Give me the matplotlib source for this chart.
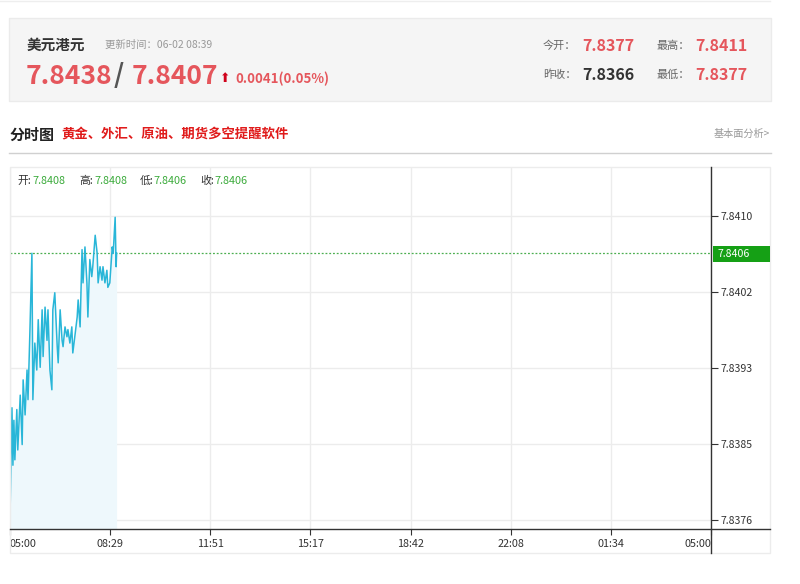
import matplotlib
matplotlib.use("Agg")
import matplotlib.pyplot as plt
from matplotlib.patches import Rectangle
from matplotlib.lines import Line2D
import numpy as np

plt.rcParams['font.family'] = ['Noto Sans CJK SC', 'DejaVu Sans']

# ---- quote header ----
pair_name = "美元港元"
update_time = "更新时间：06-02 08:39"
bid_price = "7.8438"
ask_price = "7.8407"
change_text = "0.0041(0.05%)"
open_today = "7.8377"
prev_close = "7.8366"
day_high = "7.8411"
day_low = "7.8377"

# ---- last-bar OHLC ----
bar_labels = ["开:", "高:", "低:", "收:"]
bar_values = ["7.8408", "7.8408", "7.8406", "7.8406"]

# ---- intraday series (minutes after 05:00, price) ----
minutes = [0, 4, 6, 8, 10, 14, 16, 21, 25, 27, 31, 35, 37, 41, 45, 47, 51, 55,
           58, 62, 66, 68, 72, 76, 78, 82, 86, 88, 92, 97, 99, 103, 107, 109,
           113, 117, 119, 123, 127, 129, 134, 138, 140, 144, 148, 150, 154, 158,
           160, 164, 168, 170, 175, 179, 181, 185, 189, 191, 195, 199, 201, 205,
           210, 212, 216, 218, 219]
prices = [7.83766, 7.83888, 7.83824, 7.83874, 7.83830, 7.83886, 7.83841,
          7.83902, 7.83847, 7.83919, 7.83880, 7.83930, 7.83897, 7.83975,
          7.84060, 7.83897, 7.83960, 7.83930, 7.83986, 7.83933, 7.83997,
          7.83945, 7.84000, 7.83963, 7.83997, 7.83930, 7.83908, 7.83997,
          7.84016, 7.83956, 7.83938, 7.83997, 7.83963, 7.83956, 7.83978,
          7.83967, 7.83975, 7.83960, 7.83978, 7.83949, 7.83971, 7.83989,
          7.84008, 7.83978, 7.84064, 7.84027, 7.84067, 7.84027, 7.83989,
          7.84053, 7.84034, 7.84045, 7.84080, 7.84060, 7.84027, 7.84045,
          7.84030, 7.84045, 7.84027, 7.84041, 7.84022, 7.84027, 7.84067,
          7.84060, 7.84100, 7.84045, 7.84060]
current_price = 7.8406

# ---- axes ----
time_labels = ["05:00", "08:29", "11:51", "15:17", "18:42", "22:08", "01:34", "05:00"]
session_minutes = 1440
price_ticks = [7.83763, 7.8384775, 7.839325, 7.8401725, 7.84102]
price_range = (7.83753, 7.84156)

W, H = 800, 584
fig = plt.figure(figsize=(W / 100, H / 100), dpi=100)
fig.patch.set_facecolor("white")


def fx(x):
    return x / W


def fy(y):
    return 1 - y / H


def ftext(x, y, s, **kw):
    kw.setdefault("va", "center")
    return fig.text(fx(x), fy(y), s, **kw)


def fline(x0, y0, x1, y1, **kw):
    fig.add_artist(Line2D([fx(x0), fx(x1)], [fy(y0), fy(y1)],
                          transform=fig.transFigure, **kw))


def frect(x0, y0, x1, y1, **kw):
    fig.add_artist(Rectangle((fx(x0), fy(y1)), fx(x1) - fx(x0), fy(y0) - fy(y1),
                             transform=fig.transFigure, **kw))


RED = "#e5565c"
GRAY = "#999999"
DARK = "#333333"
GREEN = "#3cab3c"

# top hairline
fline(0, 1, 770, 1, color="#eeeeee", lw=1)

# header panel
frect(9, 18, 771, 101, facecolor="#f5f5f5", edgecolor="#ebebeb", lw=1)
ftext(27, 45, pair_name, fontsize=10.5, fontweight="bold", color=DARK)
ftext(105, 45, update_time, fontsize=7.5, color=GRAY)
ftext(26, 76, bid_price, fontsize=19, fontweight="bold", color=RED)
ftext(114, 76, "/", fontsize=19, fontweight="bold", color="#555555")
ftext(132, 76, ask_price, fontsize=19, fontweight="bold", color=RED)
ftext(220, 79, "\u2b06", fontsize=9, color="#d0021b", family=["DejaVu Sans"])
ftext(235, 79, change_text, fontsize=9.5, fontweight="bold", color=RED)

ftext(543, 46, "今开：", fontsize=8, color="#666666")
ftext(582, 46, open_today, fontsize=11.5, fontweight="bold", color=RED)
ftext(657, 46, "最高：", fontsize=8, color="#666666")
ftext(695, 46, day_high, fontsize=11.5, fontweight="bold", color=RED)
ftext(543, 75, "昨收：", fontsize=8, color="#666666")
ftext(582, 75, prev_close, fontsize=11.5, fontweight="bold", color=DARK)
ftext(657, 75, "最低：", fontsize=8, color="#666666")
ftext(695, 75, day_low, fontsize=11.5, fontweight="bold", color=RED)

# section title
ftext(9, 135, "分时图", fontsize=10.8, fontweight="bold", color="#222222")
ftext(61, 135, "黄金、外汇、原油、期货多空提醒软件", fontsize=9.6,
      fontweight="bold", color="#e01b1b")
ftext(770, 134, "基本面分析>", fontsize=7.3, color=GRAY, ha="right")
fline(9, 153, 771, 153, color="#d0d0d0", lw=1)

# chart frame
frect(10, 167, 770, 553, facecolor="none", edgecolor="#ececec", lw=1)

ax = fig.add_axes([fx(10), fy(529), fx(711) - fx(10), fy(167) - fy(529)])
ax.set_facecolor("none")
ax.set_xlim(0, session_minutes)
ax.set_ylim(*price_range)

x_ticks = np.linspace(0, session_minutes, len(time_labels))
ax.set_xticks(x_ticks)
ax.set_xticklabels(time_labels, fontsize=7.8, color=DARK)
xl = ax.get_xticklabels()
xl[0].set_ha("left")
xl[-1].set_ha("right")
ax.tick_params(axis="x", direction="out", length=4, color=DARK, pad=3)

ax.set_yticks(price_ticks)
ax.set_yticklabels([f"{v:.4f}" for v in price_ticks], fontsize=7.6, color=DARK)
ax.yaxis.tick_right()
ax.tick_params(axis="y", direction="out", length=5, color=DARK, pad=2)

ax.grid(True, color="#ececec", lw=1)
ax.set_axisbelow(True)
for side in ["top", "left", "right", "bottom"]:
    ax.spines[side].set_visible(False)

ax.fill_between(minutes, prices, price_range[0], color="#eef8fc", lw=0, zorder=1)
ax.plot(minutes, prices, color="#29b6d8", lw=1.1, zorder=3)
ax.axhline(current_price, color="#4caf50", lw=0.9, ls=(0, (1.5, 1.5)), zorder=2)

# axis lines drawn across the full frame
fline(10, 529, 770, 529, color=DARK, lw=1)
fline(711, 167, 711, 553, color=DARK, lw=1)

# current price tag
tag_y = 520 - (current_price - price_ticks[0]) / (price_ticks[-1] - price_ticks[0]) * 304
frect(713, tag_y - 8, 770, tag_y + 8, facecolor="#15a015", edgecolor="none")
ftext(718, tag_y, f"{current_price:.4f}", fontsize=7.6, color="white")

# last bar OHLC row
xs_lab = [17, 79, 140, 200]
xs_val = [32, 94, 153, 214]
for xl_, xv, lab, val in zip(xs_lab, xs_val, bar_labels, bar_values):
    ftext(xl_, 181, lab, fontsize=7.8, color=DARK)
    ftext(xv, 181, val, fontsize=7.8, color=GREEN)

fig.savefig("out.png", dpi=100)
